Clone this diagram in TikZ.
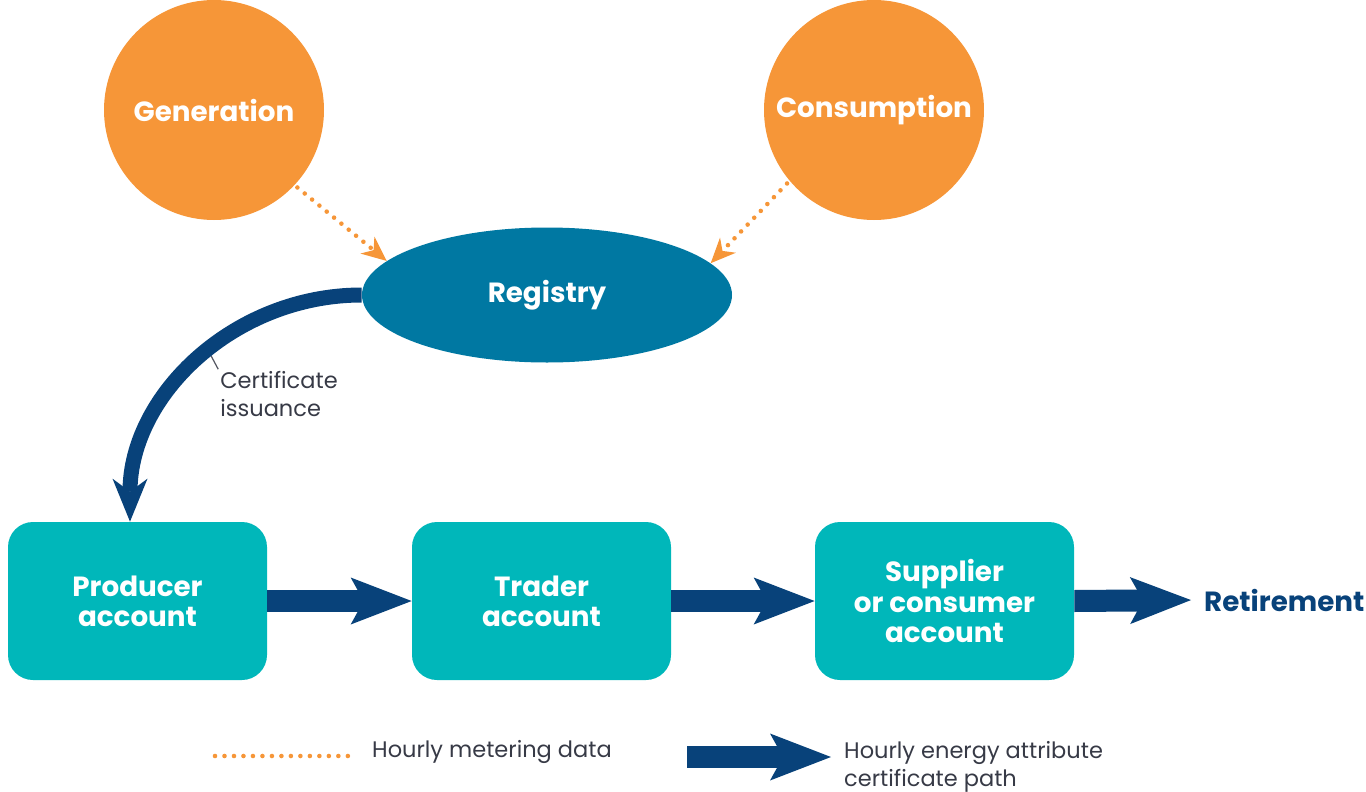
\documentclass[tikz,border=0pt]{standalone}
\usepackage{fontspec}
\setmainfont{Poppins}
\usetikzlibrary{positioning,arrows.meta,shapes.geometric}
\definecolor{SourceOrange}{RGB}{246,150,56}
\definecolor{RegistryBlue}{RGB}{0,120,162}
\definecolor{AccountTeal}{RGB}{0,183,186}
\definecolor{PathNavy}{RGB}{8,66,122}
\definecolor{NoteGrey}{RGB}{55,58,70}

\begin{document}
\begin{tikzpicture}[every node/.style={align=center},
  source/.style={circle, fill=SourceOrange, minimum size=4.4cm, text=white,
                 font=\fontsize{15.8}{17}\selectfont\bfseries},
  account/.style={rectangle, rounded corners=0.5cm, fill=AccountTeal, minimum width=5.18cm,
                  minimum height=3.16cm, text=white, font=\fontsize{15.8}{17.2}\selectfont\bfseries},
  flow/.style={draw=PathNavy, line width=0.44cm,
               -{Stealth[length=1.22cm, width=0.94cm, inset=0.26cm, line width=0pt]}},
  issue/.style={draw=PathNavy, line width=0.3cm,
                -{Stealth[length=0.86cm, width=0.7cm, inset=0.26cm, line width=0pt]}},
  dots/.style={draw=SourceOrange, line width=2.6pt, line cap=round, dash pattern=on 0pt off 5.4pt},
  meter/.style={dots, -{Stealth[length=0.5cm, width=0.44cm, inset=0.16cm, line width=0pt]}},
  note/.style={text=NoteGrey, font=\fontsize{12.8}{15.8}\selectfont, align=left}]
  \useasboundingbox (0,0) rectangle (27.32,-15.84);

  \node[source] (gen) at (4.28,-2.20) {Generation};
  \node[source] (cons) at (17.48,-2.20) {Consumption};
  \node[ellipse, fill=RegistryBlue, minimum width=7.4cm, minimum height=2.7cm, text=white,
        font=\fontsize{15.8}{17}\selectfont\bfseries] (reg) at (10.94,-5.90) {Registry};

  \node[account] (prod) at (2.75,-12.02) {Producer\\account};
  \node[account] (trad) at (10.83,-12.02) {Trader\\account};
  \node[account] (supp) at (18.89,-12.02) {Supplier\\or consumer\\account};
  \node[anchor=west, text=PathNavy, font=\fontsize{15.8}{17}\selectfont\bfseries] (ret)
       at (23.96,-12.0) {Retirement};

  \draw[meter, shorten <=2pt] (gen.-43) -- (reg.168);
  \draw[meter, shorten <=2pt] (cons.220) -- (reg.11);

  % issuance arc, leader drawn underneath it
  \coordinate (prodin) at ([xshift=-0.15cm]prod.north);
  \node[note, anchor=north west, inner sep=0pt] (certlbl) at (4.40,-7.42) {Certificate\\issuance};
  \path (reg.west) to[out=180, in=90] node[coordinate, pos=0.46] (cut) {} (prodin);
  \draw[NoteGrey!85, line width=0.7pt] (cut) -- ([xshift=-1pt, yshift=1pt]certlbl.north west);
  \draw[issue] (reg.west) to[out=180, in=90] (prodin);

  \draw[flow] (prod.east) -- (trad.west);
  \draw[flow] (trad.east) -- (supp.west);
  \draw[flow, shorten >=0.14cm] (supp.east) -- (ret.west);

  % legend
  \coordinate (mk) at (4.30,-15.12);
  \node[note, anchor=west] (lgmeter) at (7.32,-15.04) {Hourly metering data};
  \draw[dots] (mk) -- ([xshift=-0.2cm]mk -| lgmeter.west);
  \coordinate (fl) at (13.74,-15.14);
  \node[note, anchor=west] (lgpath) at (16.76,-15.34) {Hourly energy attribute\\certificate path};
  \draw[flow, shorten >=0.14cm] (fl) -- (fl -| lgpath.west);
\end{tikzpicture}
\end{document}
